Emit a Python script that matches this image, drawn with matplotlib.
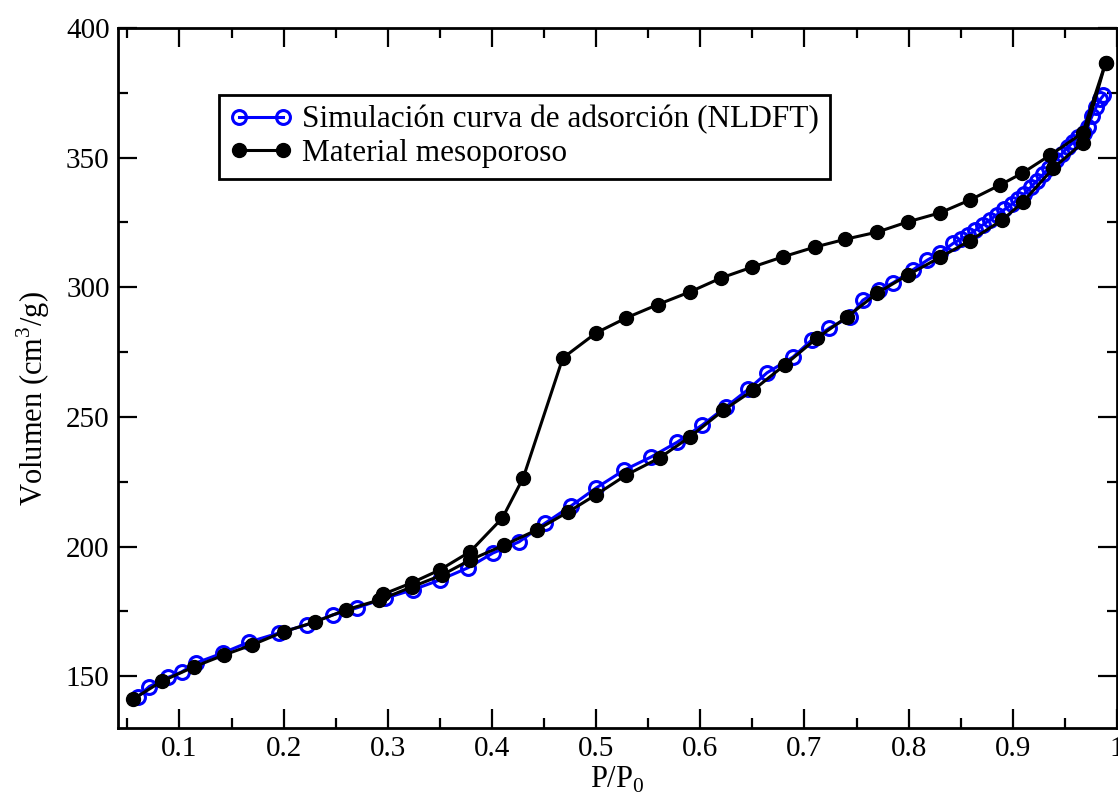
import matplotlib
matplotlib.use("Agg")
import matplotlib.pyplot as plt
from matplotlib.ticker import MultipleLocator

plt.rcParams['font.family'] = ['Liberation Serif', 'DejaVu Serif']
plt.rcParams['mathtext.fontset'] = 'custom'
plt.rcParams['mathtext.rm'] = 'Liberation Serif'

# material mesoporoso: adsorption branch
p_ads = [0.055, 0.083, 0.114, 0.143, 0.170, 0.200, 0.230, 0.260, 0.292, 0.323,
         0.352, 0.379, 0.412, 0.443, 0.473, 0.500, 0.529, 0.561, 0.590, 0.622,
         0.651, 0.681, 0.712, 0.741, 0.770, 0.799, 0.830, 0.859, 0.890, 0.910,
         0.939, 0.967, 0.989]
v_ads = [141.0, 148.0, 153.6, 158.2, 162.1, 167.1, 170.9, 175.6, 179.4, 184.4,
         189.0, 194.8, 200.6, 206.4, 213.3, 220.0, 227.6, 234.2, 242.3, 252.5,
         260.4, 270.0, 280.4, 288.6, 297.8, 304.7, 311.5, 318.0, 326.0, 333.0,
         346.0, 355.7, 386.5]

# material mesoporoso: desorption branch
p_des = [0.989, 0.967, 0.936, 0.909, 0.888, 0.859, 0.830, 0.799, 0.770, 0.739,
         0.710, 0.679, 0.650, 0.620, 0.590, 0.559, 0.529, 0.500, 0.468, 0.430,
         0.410, 0.379, 0.350, 0.323, 0.295]
v_des = [386.5, 359.5, 351.0, 344.0, 339.5, 333.7, 328.7, 325.2, 321.3, 318.5,
         315.5, 311.7, 307.8, 303.6, 298.2, 293.3, 288.2, 282.4, 272.7, 226.5,
         211.0, 198.0, 191.0, 186.0, 181.5]

# simulacion NLDFT
p_sim = [0.060, 0.071, 0.089, 0.102, 0.116, 0.142, 0.167, 0.196, 0.222, 0.247,
         0.270, 0.297, 0.324, 0.350, 0.377, 0.401, 0.426, 0.451, 0.476, 0.500,
         0.527, 0.553, 0.578, 0.602, 0.625, 0.646, 0.664, 0.689, 0.707, 0.724,
         0.744, 0.756, 0.772, 0.785, 0.804, 0.818, 0.830, 0.843, 0.850, 0.857,
         0.864, 0.871, 0.878, 0.885, 0.892, 0.899, 0.905, 0.911, 0.917, 0.923,
         0.929, 0.935, 0.941, 0.947, 0.953, 0.958, 0.963, 0.968, 0.972, 0.976,
         0.980, 0.984, 0.987]
v_sim = [142.0, 146.0, 149.5, 151.6, 155.1, 159.0, 163.2, 166.7, 169.8, 173.6,
         176.3, 180.0, 183.3, 187.1, 191.8, 197.5, 201.8, 209.0, 215.7, 222.6,
         229.5, 234.6, 240.3, 246.9, 254.0, 260.6, 267.0, 273.1, 279.7, 284.3,
         288.6, 295.0, 299.0, 301.7, 306.7, 310.5, 313.2, 317.0, 318.5, 320.0,
         322.0, 324.0, 326.0, 328.0, 330.0, 332.0, 334.0, 336.0, 338.5, 341.0,
         343.5, 346.0, 349.0, 351.5, 354.0, 356.0, 358.0, 359.5, 362.0, 366.0,
         369.5, 372.5, 374.0]

fig = plt.figure(figsize=(11.18, 8.08), dpi=100)
ax = fig.add_axes([118/1118, 80/808, 999/1118, 700/808])

ax.plot(p_sim, v_sim, color='blue', lw=2.2, marker='o', ms=10, mfc='none',
        mec='blue', mew=2.2, label='Simulación curva de adsorción (NLDFT)', zorder=2)
ax.plot(p_ads, v_ads, color='black', lw=2.2, marker='o', ms=10, mfc='black',
        mec='black', label='Material mesoporoso', zorder=3)
ax.plot(p_des, v_des, color='black', lw=2.2, marker='o', ms=10, mfc='black',
        mec='black', zorder=3)

ax.set_xlim(0.041, 1.0)
ax.set_ylim(130, 400)
ax.xaxis.set_minor_locator(MultipleLocator(0.05))
ax.yaxis.set_major_locator(MultipleLocator(50))
ax.yaxis.set_minor_locator(MultipleLocator(25))
ax.set_xticks([0.1, 0.2, 0.3, 0.4, 0.5, 0.6, 0.7, 0.8, 0.9, 1.0])
ax.set_xticklabels(['0.1', '0.2', '0.3', '0.4', '0.5', '0.6', '0.7', '0.8', '0.9', '1'])
ax.tick_params(which='both', direction='in', top=True, right=True, width=1.6,
               labelsize=21)
ax.tick_params(which='major', length=14, pad=6)
ax.tick_params(which='minor', length=7)
for s in ax.spines.values():
    s.set_linewidth(2)

ax.set_xlabel('P/P$_0$', fontsize=22, labelpad=2)
ax.set_ylabel('Volumen (cm$^3$/g)', fontsize=22)
ax.yaxis.set_label_coords(-0.066, 0.47)

leg = ax.legend(loc='upper left', bbox_to_anchor=(0.101, 0.905), numpoints=2,
                fontsize=22.5, fancybox=False, framealpha=1, edgecolor='black',
                handlelength=2.0, handletextpad=0.3, borderpad=0.35,
                labelspacing=0.15, borderaxespad=0)
leg.get_frame().set_linewidth(2)

fig.savefig('out.png', dpi=100)
